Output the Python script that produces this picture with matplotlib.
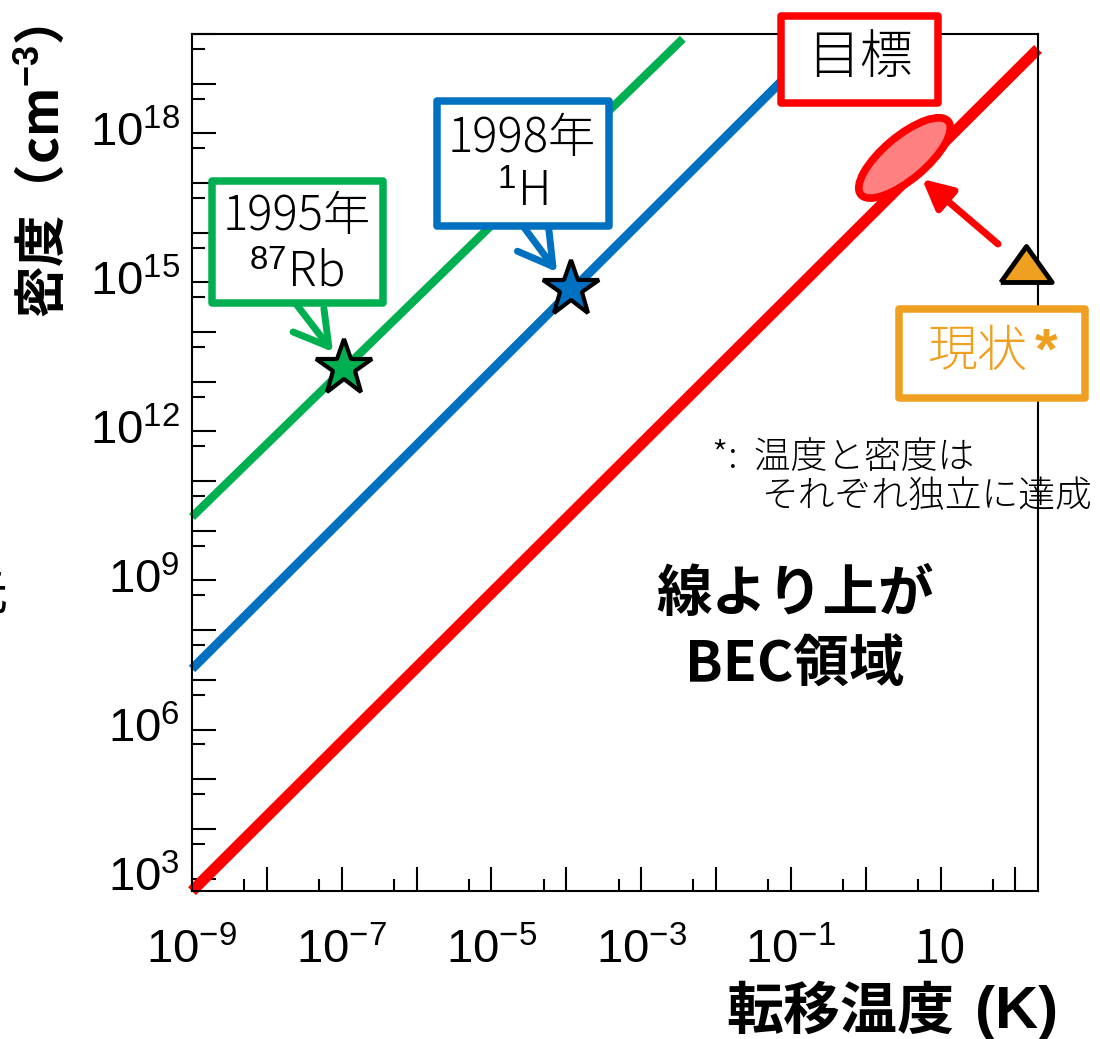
import math

import matplotlib
matplotlib.use("Agg")
import matplotlib.pyplot as plt
from matplotlib import transforms as mtransforms
from matplotlib.patches import FancyBboxPatch, Ellipse, FancyArrowPatch
from matplotlib.ticker import FixedLocator, FuncFormatter

plt.rcParams['font.family'] = ['Noto Sans CJK JP', 'DejaVu Sans']
plt.rcParams['mathtext.fontset'] = 'custom'
plt.rcParams['mathtext.rm'] = 'Liberation Sans'
plt.rcParams['mathtext.it'] = 'Liberation Sans:italic'
plt.rcParams['mathtext.bf'] = 'Liberation Sans:bold'

# BEC transition lines (temperature K, density cm^-3), end points
rb_T = [1e-9, 3.6e-3]
rb_n = [1.9e10, 8e19]
h_T = [1e-9, 0.3]
h_n = [1.66e7, 9e19]
goal_T = [1e-9, 200]
goal_n = [5.6e2, 5e19]

# achieved condensates
rb_star_T, rb_star_n = 1.07e-7, 1.9e13
h_star_T, h_star_n = 1.17e-4, 7.3e14

# present status and target region
now_T, now_n = 140, 2.3e15
target_T, target_n = 3.3, 3.2e17

# axis ranges and labelled decades
x_range = (1e-9, 200)
y_range = (10 ** 2.75, 1e20)
x_major_exps = list(range(-9, 3))
y_major_exps = list(range(3, 21))
x_label_exps = [-9, -7, -5, -3, -1, 1]
y_label_exps = [3, 6, 9, 12, 15, 18]

GREEN = '#00B050'
BLUE = '#0070C0'
RED = '#FF0000'
ORANGE = '#F0A020'
LIGHT = 300

W, H = 1100, 1039
fig = plt.figure(figsize=(W / 100, H / 100), dpi=100)


def fx(x):
    return x / W


def fy(y):
    return 1 - y / H


ax = fig.add_axes([fx(192), fy(891), (1038 - 192) / W, (891 - 34) / H])
ax.set_xscale('log')
ax.set_yscale('log')

ax.plot(goal_T, goal_n, color=RED, lw=8, solid_capstyle='butt', clip_on=False, zorder=2)
ax.plot(h_T, h_n, color=BLUE, lw=6.5, solid_capstyle='butt', clip_on=False, zorder=2)
ax.plot(rb_T, rb_n, color=GREEN, lw=6, solid_capstyle='butt', clip_on=False, zorder=2)

ax.plot([rb_star_T], [rb_star_n], marker='*', ms=42, mfc=GREEN, mec='black', mew=3,
        ls='none', zorder=4)
ax.plot([h_star_T], [h_star_n], marker='*', ms=42, mfc=BLUE, mec='black', mew=3,
        ls='none', zorder=4)

tri = [(-1, -0.7), (1, -0.7), (0, 0.7), (-1, -0.7)]
ax.plot([now_T], [now_n], marker=tri, ms=37, mfc=ORANGE, mec='black', mew=3.5,
        ls='none', clip_on=False, zorder=6)

ax.set_xlim(*x_range)
ax.set_ylim(*y_range)


def sci_label(exps):
    def fmt(v, pos):
        e = int(round(math.log10(v)))
        if e not in exps:
            return ''
        if e == 1:
            return '10'
        return r'$10^{%d}$' % e
    return FuncFormatter(fmt)


ax.xaxis.set_major_locator(FixedLocator([10.0 ** e for e in x_major_exps]))
ax.xaxis.set_minor_locator(FixedLocator([5 * 10.0 ** e for e in x_major_exps]))
ax.yaxis.set_major_locator(FixedLocator([10.0 ** e for e in y_major_exps]))
ax.yaxis.set_minor_locator(FixedLocator([5 * 10.0 ** e for e in y_major_exps]))
ax.xaxis.set_major_formatter(sci_label(x_label_exps))
ax.yaxis.set_major_formatter(sci_label(y_label_exps))
ax.xaxis.set_minor_formatter(FuncFormatter(lambda v, p: ''))
ax.yaxis.set_minor_formatter(FuncFormatter(lambda v, p: ''))

ax.tick_params(which='both', direction='in', top=False, right=False, width=1.5,
               labelsize=34)
ax.tick_params(which='major', length=17.5)
ax.tick_params(which='minor', length=9)
ax.tick_params(axis='x', which='major', pad=52)
ax.tick_params(axis='y', which='major', pad=8.5)
for s in ax.spines.values():
    s.set_linewidth(1.5)
for lbl in ax.get_xticklabels():
    lbl.set_verticalalignment('baseline')
for lbl in ax.get_yticklabels():
    lbl.set_verticalalignment('center')

# target region on the goal line
ell_tr = fig.dpi_scale_trans + mtransforms.ScaledTranslation(target_T, target_n, ax.transData)
ell = Ellipse((0, 0), 1.14, 0.43, angle=40, transform=ell_tr, fc='#FF8080',
              ec=RED, lw=5.5, zorder=3)
fig.add_artist(ell)


def label_box(x0, y0, x1, y1, color, lw_px=7.5):
    p = FancyBboxPatch((fx(x0 + lw_px / 2), fy(y1 - lw_px / 2)),
                       (x1 - x0 - lw_px) / W, (y1 - y0 - lw_px) / H,
                       boxstyle='square,pad=0', transform=fig.transFigure,
                       fc='white', ec=color, lw=lw_px * 0.72, joinstyle='round',
                       zorder=5)
    fig.add_artist(p)


def arrow(p0, p1, color, style, zorder=4):
    a = FancyArrowPatch((fx(p0[0]), fy(p0[1])), (fx(p1[0]), fy(p1[1])),
                        transform=fig.transFigure, arrowstyle=style,
                        mutation_scale=20, color=color, lw=5,
                        capstyle='round', joinstyle='round',
                        shrinkA=0, shrinkB=0, zorder=zorder)
    fig.add_artist(a)


# 1995 Rb annotation
arrow((293, 300), (333, 352), GREEN, '->,head_length=1.2,head_width=0.7')
label_box(208, 177, 387, 307, GREEN)
fig.text(fx(297), fy(217), '1995年', ha='center', va='center', fontsize=34,
         weight=LIGHT, zorder=6)
fig.text(fx(297), fy(273), r'$^{87}$Rb', ha='center', va='center', fontsize=34,
         weight=LIGHT, zorder=6)

# 1998 H annotation
arrow((520, 222), (557, 272), BLUE, '->,head_length=1.2,head_width=0.7')
label_box(433, 97, 613, 230, BLUE)
fig.text(fx(522), fy(138), '1998年', ha='center', va='center', fontsize=34,
         weight=LIGHT, zorder=6)
fig.text(fx(522), fy(193), r'$^{1}$H', ha='center', va='center', fontsize=34,
         weight=LIGHT, zorder=6)

# target label
label_box(777, 12, 942, 107, RED)
fig.text(fx(860), fy(58), '目標', ha='center', va='center', fontsize=38,
         weight=LIGHT, zorder=6)

# present status label
arrow((998, 244), (922, 179), RED, '-|>,head_length=0.9,head_width=0.45')
label_box(895, 305, 1089, 402, ORANGE)
fig.text(fx(977), fy(352), '現状', ha='center', va='center', fontsize=36,
         weight=LIGHT, color=ORANGE, zorder=6)
fig.text(fx(1046), fy(354), '*', ha='center', va='center', fontsize=42,
         weight='bold', family='Liberation Sans', color=ORANGE, zorder=6)

fig.text(fx(712), fy(458), '*:  温度と密度は', ha='left', va='center', fontsize=26.5,
         weight=LIGHT)
fig.text(fx(762), fy(497), 'それぞれ独立に達成', ha='left', va='center', fontsize=26.5,
         weight=LIGHT)

fig.text(fx(795), fy(595), '線より上が', ha='center', va='center', fontsize=40,
         weight='bold')
fig.text(fx(795), fy(665), 'BEC領域', ha='center', va='center', fontsize=40,
         weight='bold')

fig.text(fx(43), fy(172), r'密度（cm$^{\mathbf{-3}}$）', rotation=90, ha='center',
         va='center', fontsize=37, weight='bold')
fig.text(fx(954), fy(1012), '転移温度', ha='right', va='center', fontsize=41,
         weight='bold')
fig.text(fx(1058), fy(1012), '(K)', ha='right', va='center', fontsize=43,
         weight='bold', family='Liberation Sans')

fig.text(fx(8), fy(595), '元', ha='right', va='center', fontsize=36)

fig.savefig('out.png', dpi=100)
